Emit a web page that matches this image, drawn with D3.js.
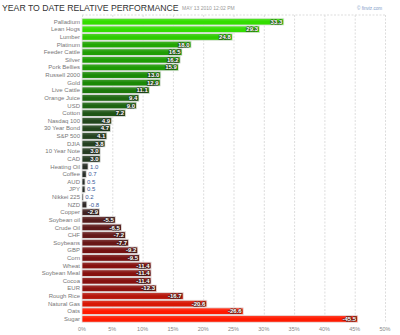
<!DOCTYPE html>
<html><head><meta charset="utf-8">
<script src="https://cdn.jsdelivr.net/npm/d3@7"></script>
<style>body{margin:0;background:#fff}svg{display:block;font-family:"Liberation Sans",Arial,sans-serif}</style>
</head><body><svg id="c" width="400" height="335"></svg>
<script>
const categories = ["Palladium","Lean Hogs","Lumber","Platinum","Feeder Cattle","Silver","Pork Bellies","Russell 2000","Gold","Live Cattle","Orange Juice","USD","Cotton","Nasdaq 100","30 Year Bond","S&P 500","DJIA","10 Year Note","CAD","Heating Oil","Coffee","AUD","JPY","Nikkei 225","NZD","Copper","Soybean oil","Crude Oil","CHF","Soybeans","GBP","Corn","Wheat","Soybean Meal","Cocoa","EUR","Rough Rice","Natural Gas","Oats","Sugar"];
const values = [33.3,29.3,24.8,18.0,16.5,16.2,15.9,13.0,12.9,11.1,9.4,9.0,7.2,4.9,4.7,4.1,3.8,3.0,3.0,1.0,0.7,0.5,0.5,0.2,-0.8,-2.9,-5.5,-6.5,-7.2,-7.7,-9.2,-9.5,-11.4,-11.4,-11.4,-12.3,-16.7,-20.6,-26.6,-45.5];
const tickValues = [0,5,10,15,20,25,30,35,40,45,50];
const title = "YEAR TO DATE RELATIVE PERFORMANCE";
const dateText = "MAY 13 2010 12:02 PM";
const credit = "© finviz.com";

const data = categories.map((c,i)=>({name:c, v:values[i]}));
const svg = d3.select("#c");
const x = d3.scaleLinear().domain([0,50]).range([82,385]);
const y = d3.scaleBand().domain(categories).range([18,322.5]).paddingInner(0.12).paddingOuter(0.04);
const pos = d3.scaleLinear().domain([0,8,13,28]).range(["#2a2a2a","#1e5a14","#1a8a05","#33dd00"]).clamp(true);
const neg = d3.scaleLinear().domain([0,-10,-25]).range(["#2a2a2a","#7a1010","#ff1a00"]).clamp(true);
const col = v => v>=0 ? pos(v) : neg(v);

// title
svg.append("text").attr("x",2).attr("y",11).attr("font-size",8.7).attr("fill","#333").text(title);
svg.append("text").attr("x",182).attr("y",10).attr("font-size",5).attr("fill","#999").text(dateText);
svg.append("text").attr("x",357).attr("y",10).attr("font-size",4.6).attr("fill","#7d9cc8").text(credit);

// grid
const g = svg.append("g");
g.append("line").attr("x1",x(0)).attr("x2",x(50)).attr("y1",15).attr("y2",15)
  .attr("stroke","#ddd").attr("stroke-dasharray","2,1.5");
g.selectAll("line.grid").data(tickValues).join("line").attr("class","grid")
  .attr("x1",d=>x(d)+0.5).attr("x2",d=>x(d)+0.5).attr("y1",15).attr("y2",323)
  .attr("stroke","#ddd").attr("stroke-dasharray","2,1.5");

// axis labels
svg.selectAll("text.tick").data(tickValues).join("text").attr("class","tick")
  .attr("x",d=>x(d)).attr("y",331).attr("text-anchor","middle")
  .attr("font-size",5.5).attr("fill","#888").text(d=>d+"%");

// defs gradient overlay
const defs = svg.append("defs");
const lg = defs.append("linearGradient").attr("id","sh").attr("x1",0).attr("x2",0).attr("y1",0).attr("y2",1);
lg.append("stop").attr("offset","0%").attr("stop-color","#fff").attr("stop-opacity",0.18);
lg.append("stop").attr("offset","100%").attr("stop-color","#fff").attr("stop-opacity",0);

// bars
const rows = svg.selectAll("g.row").data(data).join("g").attr("class","row");
rows.append("rect").attr("x",x(0)).attr("y",d=>y(d.name)).attr("height",y.bandwidth())
  .attr("width",d=>Math.max(0.5,x(Math.abs(d.v))-x(0))).attr("fill",d=>col(d.v))
  .attr("stroke","#e2e2e2").attr("stroke-width",0.8);
rows.append("rect").attr("x",x(0)).attr("y",d=>y(d.name)).attr("height",y.bandwidth()/2)
  .attr("width",d=>Math.max(0.5,x(Math.abs(d.v))-x(0))).attr("fill","url(#sh)");

// category labels
rows.append("text").attr("x",80).attr("y",d=>y(d.name)+y.bandwidth()/2+2.1)
  .attr("text-anchor","end").attr("font-size",6).attr("fill","#777").text(d=>d.name);

// value labels
rows.each(function(d){
  const w = x(Math.abs(d.v))-x(0);
  const s = d.v.toFixed(1);
  const tw = s.length*3.4+2;
  const t = d3.select(this).append("text").attr("y",y(d.name)+y.bandwidth()/2+2.1)
    .attr("font-size",6).attr("font-weight","bold").text(s);
  if (w > tw) {
    t.attr("x",x(Math.abs(d.v))-1.5).attr("text-anchor","end").attr("fill","#fff")
     .attr("stroke","#222").attr("stroke-width",1.3).attr("stroke-opacity",0.7).attr("paint-order","stroke");
  } else {
    t.attr("x",x(Math.abs(d.v))+2).attr("text-anchor","start").attr("fill","#3a5a9a").attr("font-weight","normal");
  }
});
</script></body></html>
